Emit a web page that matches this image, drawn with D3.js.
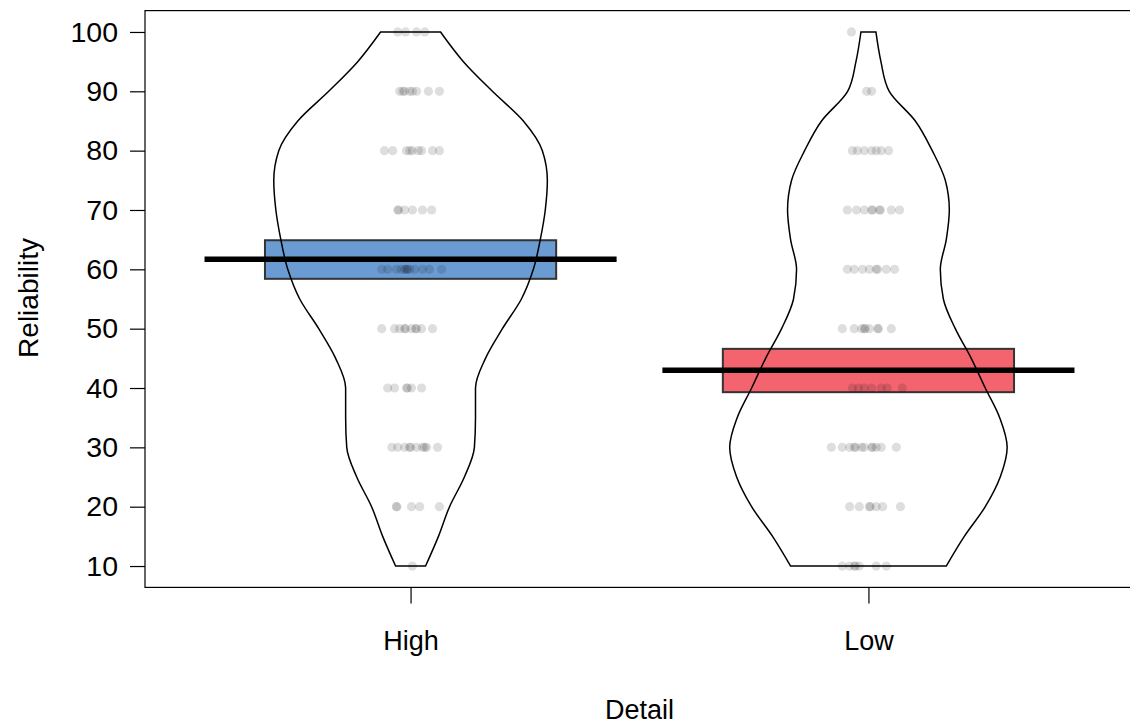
<!DOCTYPE html>
<html>
<head>
<meta charset="utf-8">
<script src="https://cdn.jsdelivr.net/npm/d3@7"></script>
<style>
  html, body { margin: 0; padding: 0; background: #fff; }
  svg { display: block; font-family: "Liberation Sans", Arial, sans-serif; }
  .tick text { font-size: 27px; fill: #000; }
  .y-axis .tick text { font-size: 28.5px; }
</style>
</head>
<body>
<div id="chart"></div>
<script>
// pirate plot: Reliability by Detail

const categories = ["High", "Low"];
const yTicks = [10, 20, 30, 40, 50, 60, 70, 80, 90, 100];

// group means and interval (bar) bounds
const means = [61.7, 43.0];
const lower = [58.4, 39.3];
const upper = [64.9, 46.6];
const barColors = ["#6a9bd3", "#f3646f"];

// bean density (relative), evaluated at these levels
const densityLevels = [10, 15, 20, 25, 30, 35, 40, 45, 50, 55, 60, 65, 70, 75, 80, 85, 90, 95, 100];
const densityHigh = [0.108, 0.201, 0.281, 0.388, 0.460, 0.468, 0.468, 0.540, 0.662, 0.799,
                     0.885, 0.935, 0.971, 0.986, 0.950, 0.813, 0.590, 0.381, 0.216];
const densityLow  = [0.561, 0.691, 0.842, 0.950, 1.000, 0.946, 0.842, 0.741, 0.626, 0.540,
                     0.518, 0.561, 0.583, 0.554, 0.460, 0.338, 0.150, 0.090, 0.054];

// raw ratings with the horizontal jitter seen in the picture (x units)
const pointsHigh = [
  [100,-0.028],[100,-0.011],[100,0.013],[100,0.031],
  [90,-0.024],[90,-0.017],[90,-0.013],[90,-0.002],[90,0.004],[90,0.013],[90,0.039],[90,0.063],
  [80,-0.057],[80,-0.039],[80,-0.009],[80,-0.002],[80,0.004],[80,0.017],[80,0.024],[80,0.048],[80,0.063],
  [70,-0.028],[70,-0.026],[70,-0.013],[70,0.004],[70,0.026],[70,0.046],
  [60,-0.063],[60,-0.050],[60,-0.031],[60,-0.020],[60,-0.013],[60,-0.009],[60,-0.007],[60,-0.002],
  [60,0.009],[60,0.026],[60,0.041],[60,0.068],
  [50,-0.063],[50,-0.035],[50,-0.024],[50,-0.013],[50,-0.011],[50,0.002],[50,0.011],[50,0.013],[50,0.024],[50,0.048],
  [40,-0.050],[40,-0.035],[40,-0.009],[40,-0.007],[40,0.002],[40,0.024],
  [30,-0.041],[30,-0.028],[30,-0.013],[30,-0.002],[30,0.000],[30,0.013],[30,0.026],[30,0.031],[30,0.035],[30,0.059],
  [20,-0.031],[20,-0.030],[20,0.002],[20,0.020],[20,0.063],
  [10,0.004]
];
const pointsLow = [
  [100,-0.037],
  [90,-0.004],[90,0.007],
  [80,-0.035],[80,-0.024],[80,-0.009],[80,0.007],[80,0.017],[80,0.028],[80,0.044],
  [70,-0.046],[70,-0.026],[70,-0.009],[70,0.007],[70,0.009],[70,0.024],[70,0.026],[70,0.050],[70,0.068],
  [60,-0.046],[60,-0.031],[60,-0.013],[60,0.002],[60,0.017],[60,0.020],[60,0.039],[60,0.057],
  [50,-0.057],[50,-0.031],[50,-0.015],[50,-0.009],[50,-0.007],[50,0.002],[50,0.020],[50,0.022],[50,0.050],
  [40,-0.035],[40,-0.022],[40,-0.009],[40,0.007],[40,0.028],[40,0.041],[40,0.074],
  [30,-0.081],[30,-0.057],[30,-0.041],[30,-0.031],[30,-0.028],[30,-0.015],[30,-0.009],[30,0.007],[30,0.009],
  [30,0.017],[30,0.028],[30,0.061],
  [20,-0.041],[20,-0.020],[20,0.002],[20,0.004],[20,0.017],[20,0.031],[20,0.070],
  [10,-0.057],[10,-0.041],[10,-0.031],[10,-0.028],[10,-0.020],[10,0.017],[10,0.039]
];

const width = 1130, height = 724;
const margin = {left: 145, top: 10.6, bottom: 136.6};

const svg = d3.select("#chart").append("svg")
  .attr("width", width)
  .attr("height", height);

// R style limits with 4% padding
let x = d3.scaleLinear().domain([0.42, 2.58]).range([margin.left, margin.left + 989]);
let y = d3.scaleLinear().domain([6.4, 103.6]).range([height - margin.bottom, margin.top]);

const beanMax = 0.303, barHalf = 0.318, lineHalf = 0.45;

let groups = categories.map((c, i) => ({
  name: c,
  pos: i + 1,
  mean: means[i],
  lo: lower[i],
  hi: upper[i],
  color: barColors[i],
  density: (i == 0 ? densityHigh : densityLow),
  points: (i == 0 ? pointsHigh : pointsLow)
}));

// bars
svg.append("g").selectAll("rect")
  .data(groups)
  .enter().append("rect")
  .attr("x", (d) => x(d.pos - barHalf))
  .attr("width", (d) => x(d.pos + barHalf) - x(d.pos - barHalf))
  .attr("y", (d) => y(d.hi))
  .attr("height", (d) => y(d.lo) - y(d.hi))
  .attr("fill", (d) => d.color)
  .attr("stroke", "#333")
  .attr("stroke-width", 2);

// beans
let bean = d3.area()
  .curve(d3.curveMonotoneY)
  .y((d) => y(d.v));

svg.append("g").selectAll("path")
  .data(groups)
  .enter().append("path")
  .attr("d", (g) => {
    let pts = densityLevels.map((v, j) => ({v: v, w: g.density[j] * beanMax}));
    return bean
      .x0((d) => x(g.pos - d.w))
      .x1((d) => x(g.pos + d.w))(pts);
  })
  .attr("fill", "none")
  .attr("stroke", "#000")
  .attr("stroke-width", 1.5);

// points
groups.forEach((g) => {
  svg.append("g").selectAll("circle")
    .data(g.points)
    .enter().append("circle")
    .attr("cx", (d) => x(g.pos + d[1]))
    .attr("cy", (d) => y(d[0]))
    .attr("r", 4.6)
    .attr("fill", "#000")
    .attr("fill-opacity", 0.13);
});

// mean lines
svg.append("g").selectAll("line")
  .data(groups)
  .enter().append("line")
  .attr("x1", (d) => x(d.pos - lineHalf))
  .attr("x2", (d) => x(d.pos + lineHalf))
  .attr("y1", (d) => y(d.mean))
  .attr("y2", (d) => y(d.mean))
  .attr("stroke", "#000")
  .attr("stroke-width", 5.5);

// box
svg.append("rect")
  .attr("x", x.range()[0])
  .attr("y", y.range()[1])
  .attr("width", x.range()[1] - x.range()[0])
  .attr("height", y.range()[0] - y.range()[1])
  .attr("fill", "none")
  .attr("stroke", "#000")
  .attr("stroke-width", 1.2);

// axes
let yAxis = svg.append("g")
  .attr("class", "y-axis")
  .attr("transform", `translate(${margin.left},0)`)
  .call(d3.axisLeft(y).tickValues(yTicks).tickSize(15).tickPadding(12));
yAxis.select(".domain").remove();
yAxis.selectAll("line").attr("stroke", "#000").attr("stroke-width", 1.2);

let xAxis = svg.append("g")
  .attr("transform", `translate(0,${y.range()[0]})`)
  .call(d3.axisBottom(x).tickValues([1, 2]).tickFormat((d) => categories[d - 1]).tickSize(16).tickPadding(27));
xAxis.select(".domain").remove();
xAxis.selectAll("line").attr("stroke", "#000").attr("stroke-width", 1.2);

svg.append("text")
  .attr("x", x(1.5))
  .attr("y", 719)
  .attr("text-anchor", "middle")
  .style("font-size", "27px")
  .text("Detail");

svg.append("text")
  .attr("transform", `translate(38,298) rotate(-90)`)
  .attr("text-anchor", "middle")
  .style("font-size", "28px")
  .text("Reliability");
</script>
</body>
</html>
